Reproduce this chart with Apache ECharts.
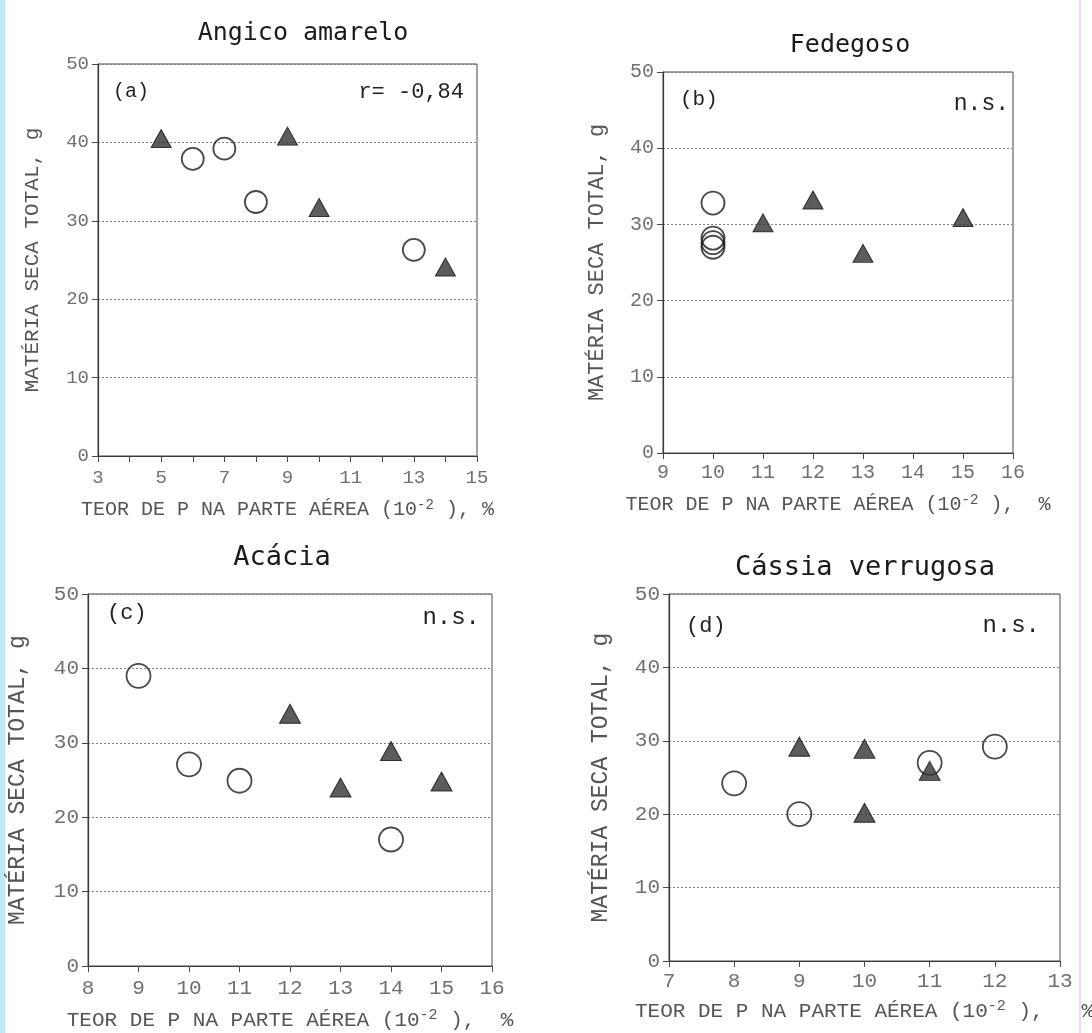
<!DOCTYPE html>
<html><head><meta charset="utf-8">
<script src="https://cdn.jsdelivr.net/npm/echarts@6/dist/echarts.min.js"></script>
<style>html,body{margin:0;padding:0;background:#fff}#c{width:1092px;height:1033px}</style>
</head><body><div id="c"></div>
<script>
// ---- data ----
const panelTitles = ['Angico amarelo', 'Fedegoso', 'Acácia', 'Cássia verrugosa'];
const panelTags = ['(a)', '(b)', '(c)', '(d)'];
const panelStats = ['r= -0,84', 'n.s.', 'n.s.', 'n.s.'];
const xRanges = [[3, 15], [9, 16], [8, 16], [7, 13]];
const xLabelSteps = [2, 1, 1, 1];
const yRange = [0, 50];
const yStep = 10;
const xAxisName = 'TEOR DE P NA PARTE AÉREA (10{s|-2} ),';
const yAxisName = 'MATÉRIA SECA TOTAL, g';
const circlesA = [[6, 37.9], [7, 39.2], [8, 32.4], [13, 26.3]];
const trianglesA = [[5, 40.5], [9, 40.8], [10, 31.7], [14, 24.1]];
const circlesB = [[10, 32.8], [10, 28.2], [10, 27.6], [10, 27.0]];
const trianglesB = [[11, 30.2], [12, 33.2], [13, 26.2], [15, 30.9]];
const circlesC = [[9, 39.0], [10, 27.1], [11, 24.9], [14, 17.0]];
const trianglesC = [[12, 33.9], [13, 24.0], [14, 28.9], [15, 24.8]];
const circlesD = [[8, 24.2], [9, 20.0], [11, 27.0], [12, 29.2]];
const trianglesD = [[9, 29.2], [10, 28.9], [10, 20.2], [11, 25.9]];
const circleSets = [circlesA, circlesB, circlesC, circlesD];
const triangleSets = [trianglesA, trianglesB, trianglesC, trianglesD];

// ---- layout / style ----
const boxes = [
  {l: 98, r: 477, t: 64, b: 456, tx: 298, ty: 28, tf: 25, pct: ' %', f: 1.0,
   tagDx: 15, tagDy: 28, statDx: 13, statDy: 28, xGap: 42, yGap: 55, lm: 12, circ: 22, tri: [20, 18]},
  {l: 663, r: 1013, t: 72, b: 453, tx: 845, ty: 40, tf: 25, pct: '  %', f: 1.03,
   tagDx: 17, tagDy: 27, statDx: 4, statDy: 32, xGap: 40, yGap: 55, lm: 10, circ: 23, tri: [20, 18]},
  {l: 88, r: 492, t: 594, b: 966, tx: 277, ty: 553, tf: 27, pct: '  %', f: 1.08,
   tagDx: 19, tagDy: 19, statDx: 12, statDy: 24, xGap: 42, yGap: 59, lm: 12, circ: 24, tri: [21, 19]},
  {l: 669, r: 1060, t: 594, b: 961, tx: 860, ty: 563, tf: 27, pct: '   %', f: 1.08,
   tagDx: 17, tagDy: 32, statDx: 20, statDy: 32, xGap: 38, yGap: 57, lm: 10, circ: 24, tri: [21, 19]}
];
const MONO = '"Liberation Mono", "Courier New", monospace';
const TITLEF = '"DejaVu Sans Mono", monospace';

const grid = [], xAxis = [], yAxis = [], series = [], title = [], graphic = [];
boxes.forEach((bx, i) => {
  const f = bx.f;
  grid.push({left: bx.l, top: bx.t, width: bx.r - bx.l, height: bx.b - bx.t,
    containLabel: false, outerBoundsMode: 'none',
    show: true, borderColor: '#4a4a4a', borderWidth: 1, backgroundColor: 'transparent'});
  const [mn, mx] = xRanges[i];
  const st = xLabelSteps[i];
  xAxis.push({
    gridIndex: i, type: 'value', min: mn, max: mx, interval: 1,
    axisLine: {show: true, onZero: false, lineStyle: {color: '#3a3a3a', width: 1.2}},
    axisTick: {show: true, inside: false, length: 6, lineStyle: {color: '#4a4a4a'}},
    splitLine: {show: false},
    axisLabel: {fontFamily: MONO, fontSize: Math.round(19 * f), color: '#707070', margin: bx.lm,
      formatter: v => ((Math.round(v - mn) % st) === 0 ? String(v) : '')},
    name: xAxisName + bx.pct, nameLocation: 'middle', nameGap: bx.xGap,
    nameTextStyle: {fontFamily: MONO, fontSize: Math.round(19.7 * f), color: '#555',
      rich: {s: {fontFamily: MONO, fontSize: Math.round(14 * f), color: '#555', verticalAlign: 'top', padding: [0, 0, 10, 0]}}}
  });
  yAxis.push({
    gridIndex: i, type: 'value', min: yRange[0], max: yRange[1], interval: yStep,
    axisLine: {show: true, lineStyle: {color: '#3a3a3a', width: 1.2}},
    axisTick: {show: true, inside: false, length: 6, lineStyle: {color: '#4a4a4a'}},
    splitLine: {show: true, lineStyle: {color: '#808080', type: [2, 2], width: 1}},
    axisLabel: {fontFamily: MONO, fontSize: Math.round(19 * f), color: '#707070', margin: 9},
    name: yAxisName, nameLocation: 'middle', nameGap: bx.yGap, nameRotate: 90,
    nameTextStyle: {fontFamily: MONO, fontSize: Math.round(21 * f), color: '#555'}
  });
  series.push({
    type: 'scatter', xAxisIndex: i, yAxisIndex: i, data: circleSets[i],
    symbol: 'circle', symbolSize: bx.circ,
    itemStyle: {color: 'rgba(255,255,255,0)', borderColor: '#1a1a1a', borderWidth: 1.8}, z: 3
  });
  series.push({
    type: 'scatter', xAxisIndex: i, yAxisIndex: i, data: triangleSets[i],
    symbol: 'triangle', symbolSize: bx.tri,
    itemStyle: {color: '#333', borderColor: '#111', borderWidth: 1}, z: 4
  });
  title.push({text: panelTitles[i], left: bx.tx, top: bx.ty, textAlign: 'center', textVerticalAlign: 'middle',
    textStyle: {fontFamily: TITLEF, fontSize: bx.tf, fontWeight: 'normal', color: '#1a1a1a'}});
  graphic.push({type: 'text', x: bx.l + bx.tagDx, y: bx.t + bx.tagDy,
    style: {text: panelTags[i], font: Math.round(20 * f) + 'px ' + MONO, fill: '#222', verticalAlign: 'middle', align: 'left'}});
  graphic.push({type: 'text', x: bx.r - bx.statDx, y: bx.t + bx.statDy,
    style: {text: panelStats[i], font: Math.round(22 * f) + 'px ' + MONO, fill: '#222', verticalAlign: 'middle', align: 'right'}});
});
graphic.push({type: 'rect', left: 0, top: 0, shape: {width: 5, height: 1033}, style: {fill: '#bfeaf2'}, silent: true});
graphic.push({type: 'rect', left: 1079, top: 0, shape: {width: 2, height: 1033}, style: {fill: '#f4dcf2'}, silent: true});

const chart = echarts.init(document.getElementById('c'), null, {renderer: 'canvas'});
chart.setOption({backgroundColor: '#ffffff', animation: false, title, grid, xAxis, yAxis, series, graphic});
</script></body></html>
